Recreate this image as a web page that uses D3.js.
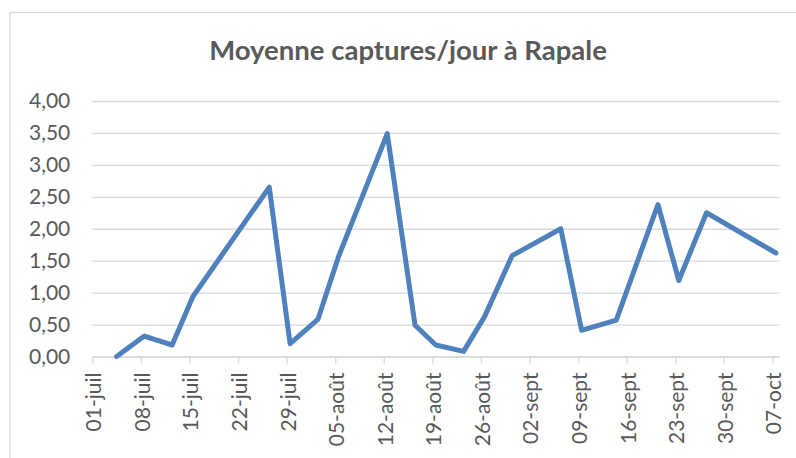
<!DOCTYPE html>
<meta charset="utf-8" />
<script src="https://d3js.org/d3.v7.min.js"></script>
<style>
	body { margin: 0; background: #fff; }
	svg { display: block; }
</style>
<div id="my_dataviz"></div>

<script>
	// data (year is arbitrary, only day/month shown)
	var dates = ['2019-07-04', '2019-07-08', '2019-07-12', '2019-07-15', '2019-07-26', '2019-07-29',
		'2019-08-02', '2019-08-05', '2019-08-12', '2019-08-16', '2019-08-19', '2019-08-23',
		'2019-08-26', '2019-08-30', '2019-09-06', '2019-09-09', '2019-09-14', '2019-09-20',
		'2019-09-23', '2019-09-27', '2019-10-07'];
	var values = [0, 0.32, 0.18, 0.94, 2.65, 0.2, 0.58, 1.57, 3.49, 0.49, 0.18, 0.08,
		0.62, 1.58, 2.0, 0.41, 0.57, 2.38, 1.19, 2.25, 1.62];
	var tickDates = ['2019-07-01', '2019-07-08', '2019-07-15', '2019-07-22', '2019-07-29',
		'2019-08-05', '2019-08-12', '2019-08-19', '2019-08-26', '2019-09-02', '2019-09-09',
		'2019-09-16', '2019-09-23', '2019-09-30', '2019-10-07'];
	var tickLabels = ['01-juil', '08-juil', '15-juil', '22-juil', '29-juil', '05-août', '12-août',
		'19-août', '26-août', '02-sept', '09-sept', '16-sept', '23-sept', '30-sept', '07-oct'];
	var yTicks = [0, 0.5, 1, 1.5, 2, 2.5, 3, 3.5, 4];
	var title = 'Moyenne captures/jour à Rapale';

	var width = 796, height = 458;
	var plotLeft = 92.3, plotRight = 779.4, plotTop = 101, plotBottom = 356.5;
	var font = 'Lato, "Open Sans", sans-serif';
	var grey = '#595959';

	var parse = d3.utcParse('%Y-%m-%d');
	var data = dates.map(function (d, i) {
		// Excel date axis puts each day in the middle of its slot
		return { date: d3.utcHour.offset(parse(d), 12), value: values[i] };
	});

	var svg = d3.select('#my_dataviz').append('svg')
		.attr('width', width)
		.attr('height', height);

	// chart border
	svg.append('rect')
		.attr('x', 10).attr('y', 12.5)
		.attr('width', 800).attr('height', 460)
		.attr('fill', 'none')
		.attr('stroke', '#d9d9d9')
		.attr('stroke-width', 1.3);

	var x = d3.scaleUtc()
		.domain([parse('2019-07-01'), parse('2019-10-08')])
		.range([plotLeft, plotRight]);
	var y = d3.scaleLinear().domain([0, 4]).range([plotBottom, plotTop]);

	// horizontal gridlines + y labels
	var yAxis = svg.append('g')
		.attr('transform', 'translate(' + plotLeft + ',0)')
		.call(d3.axisLeft(y)
			.tickValues(yTicks)
			.tickSize(-(plotRight - plotLeft))
			.tickPadding(22)
			.tickFormat(function (d) { return d3.format('.2f')(d).replace('.', ','); }));
	yAxis.select('.domain').remove();
	yAxis.selectAll('line').attr('stroke', '#d9d9d9').attr('stroke-width', 1.3);
	yAxis.selectAll('text')
		.attr('fill', grey)
		.style('font-family', font)
		.style('font-size', '21px');

	// x axis
	var xAxis = svg.append('g')
		.attr('transform', 'translate(0,' + plotBottom + ')')
		.call(d3.axisBottom(x)
			.tickValues(tickDates.map(parse))
			.tickSize(7)
			.tickSizeOuter(0)
			.tickFormat(function (d, i) { return tickLabels[i]; }));
	xAxis.select('.domain').attr('stroke', '#d9d9d9').attr('stroke-width', 1.3);
	xAxis.selectAll('line').attr('stroke', '#d9d9d9').attr('stroke-width', 1.3);
	xAxis.selectAll('text')
		.attr('fill', grey)
		.style('font-family', font)
		.style('font-size', '21px')
		.attr('text-anchor', 'end')
		.attr('transform', 'rotate(-90)')
		.attr('x', -16)
		.attr('y', 0)
		.attr('dy', '0.4em');

	// line
	svg.append('path')
		.datum(data)
		.attr('fill', 'none')
		.attr('stroke', '#4f81bd')
		.attr('stroke-width', 5)
		.attr('stroke-linejoin', 'round')
		.attr('stroke-linecap', 'round')
		.attr('d', d3.line()
			.x(function (d) { return x(d.date); })
			.y(function (d) { return y(d.value); }));

	// title
	svg.append('text')
		.attr('x', 408)
		.attr('y', 60)
		.attr('text-anchor', 'middle')
		.attr('fill', grey)
		.style('font-family', font)
		.style('font-weight', 'bold')
		.style('font-size', '27.5px')
		.text(title);
</script>
